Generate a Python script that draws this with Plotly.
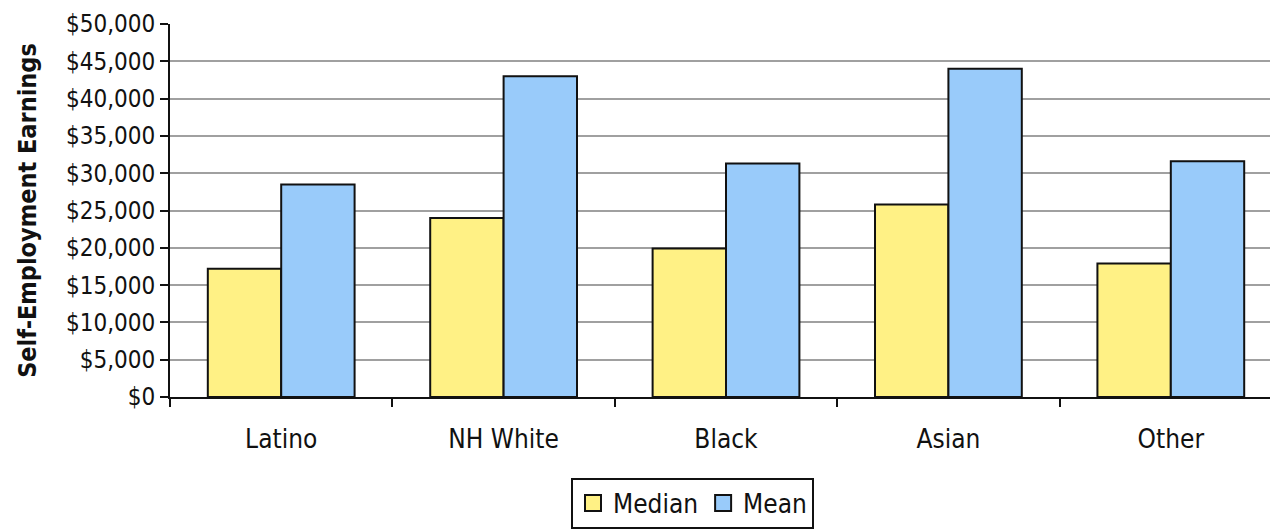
import plotly.graph_objects as go

groups = ["Latino", "NH White", "Black", "Asian", "Other"]
median_earnings = [17200, 24000, 19900, 25800, 17900]
mean_earnings = [28500, 43000, 31300, 44000, 31600]
tick_values = list(range(0, 50001, 5000))
tick_labels = ["$0", "$5,000", "$10,000", "$15,000", "$20,000", "$25,000",
               "$30,000", "$35,000", "$40,000", "$45,000", "$50,000"]
series_names = ["Median", "Mean"]
series_colors = ["#FFF185", "#99CBFA"]

FONT = "Liberation Sans Narrow, DejaVu Sans Condensed, Arial Narrow, sans-serif"
INK = "#111111"

fig = go.Figure()
for name, values, color in zip(series_names, [median_earnings, mean_earnings], series_colors):
    fig.add_trace(go.Bar(
        name=name, x=groups, y=values, showlegend=False,
        marker=dict(color=color, line=dict(color=INK, width=2)),
    ))

# legend entries with larger square swatches
for name, color in zip(series_names, series_colors):
    fig.add_trace(go.Scatter(
        name=name, x=[None], y=[None], mode="markers",
        marker=dict(symbol="square", size=22, color=color,
                    line=dict(color=INK, width=2)),
    ))

fig.update_layout(
    width=1270, height=529,
    margin=dict(l=170, r=0, t=24, b=130),
    paper_bgcolor="white", plot_bgcolor="white",
    barmode="group", bargap=0.34, bargroupgap=0,
    font=dict(family=FONT, color=INK),
    showlegend=True,
    legend=dict(
        orientation="h", x=0.475, xanchor="center", y=-0.216, yanchor="top",
        font=dict(size=26, family=FONT, color=INK),
        bordercolor=INK, borderwidth=2, bgcolor="white",
        itemwidth=30, itemsizing="trace", traceorder="normal",
    ),
)

fig.update_xaxes(
    range=[-0.5, 4.446],
    showline=True, linecolor=INK, linewidth=2,
    ticks="outside", ticklen=8, tickwidth=2, tickcolor=INK,
    tickson="boundaries", ticklabelstandoff=18,
    tickfont=dict(size=26, family=FONT, color=INK),
    showgrid=False,
)
fig.update_yaxes(
    range=[0, 50000],
    tickvals=tick_values, ticktext=tick_labels,
    showline=True, linecolor=INK, linewidth=2,
    ticks="outside", ticklen=8, tickwidth=2, tickcolor=INK,
    tickfont=dict(size=24, family=FONT, color=INK),
    showgrid=True, gridcolor="#A0A0A0", gridwidth=2,
    title=dict(text="<b>Self-Employment Earnings</b>",
               font=dict(size=25, family=FONT, color=INK), standoff=22),
    zeroline=False,
)

fig.write_html("out.html")
